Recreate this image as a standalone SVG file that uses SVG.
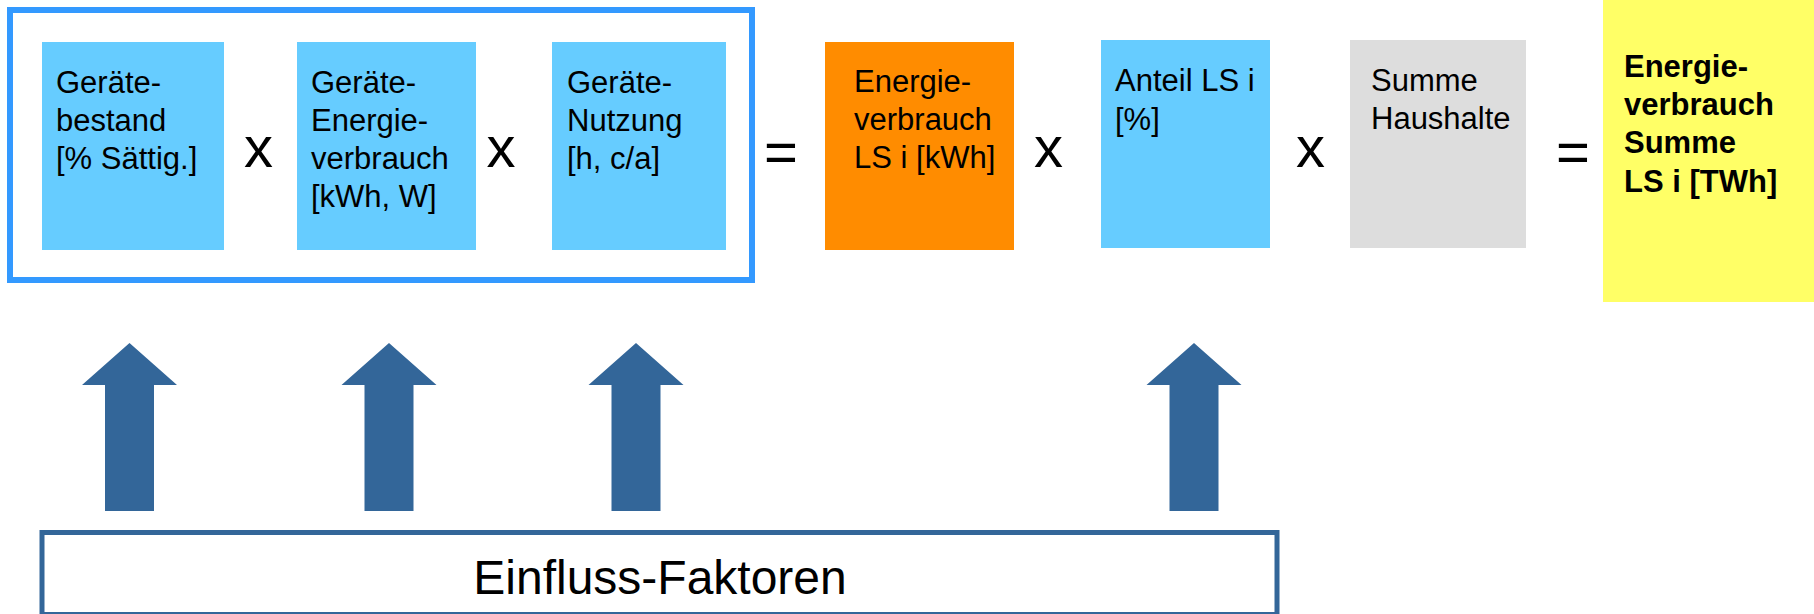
<svg xmlns="http://www.w3.org/2000/svg" width="1814" height="614" viewBox="0 0 1814 614">
<defs>
<style>
.t{font-family:"Liberation Sans",Arial,sans-serif;font-size:31px;fill:#000}
.tb{font-family:"Liberation Sans",Arial,sans-serif;font-size:31px;font-weight:bold;fill:#000}
.op{font-family:"Liberation Sans",Arial,sans-serif;font-size:58px;fill:#000;text-anchor:middle}
.blue{fill:#66CCFF}
.arrow{fill:#336699}
</style>
</defs>
<rect width="1814" height="614" fill="#ffffff"/>
<g id="frame">
<rect x="10" y="10" width="742" height="270" fill="none" stroke="#3399FF" stroke-width="6"/>
</g>
<g id="geraetebestand">
<rect class="blue" x="42" y="42" width="182" height="208"/>
<text class="t" x="56" y="93">Geräte-</text>
<text class="t" x="56" y="131">bestand</text>
<text class="t" x="56" y="169">[% Sättig.]</text>
</g>
<g id="op1"><text class="op" x="258.5" y="167">x</text></g>
<g id="energieverbrauch-geraet">
<rect class="blue" x="297" y="42" width="179" height="208"/>
<text class="t" x="311" y="93">Geräte-</text>
<text class="t" x="311" y="131">Energie-</text>
<text class="t" x="311" y="169">verbrauch</text>
<text class="t" x="311" y="207">[kWh, W]</text>
</g>
<g id="op2"><text class="op" x="501" y="167">x</text></g>
<g id="nutzung">
<rect class="blue" x="552" y="42" width="174" height="208"/>
<text class="t" x="567" y="93">Geräte-</text>
<text class="t" x="567" y="131">Nutzung</text>
<text class="t" x="567" y="169">[h, c/a]</text>
</g>
<g id="eq1"><text class="op" x="781" y="172">=</text></g>
<g id="energieverbrauch-ls">
<rect x="825" y="42" width="189" height="208" fill="#FF8C00"/>
<text class="t" x="854" y="92">Energie-</text>
<text class="t" x="854" y="130">verbrauch</text>
<text class="t" x="854" y="168">LS i [kWh]</text>
</g>
<g id="op3"><text class="op" x="1048.5" y="167">x</text></g>
<g id="anteil">
<rect class="blue" x="1101" y="40" width="169" height="208"/>
<text class="t" x="1115" y="91">Anteil LS i</text>
<text class="t" x="1115" y="130">[%]</text>
</g>
<g id="op4"><text class="op" x="1310.5" y="167">x</text></g>
<g id="haushalte">
<rect x="1350" y="40" width="176" height="208" fill="#DDDDDD"/>
<text class="t" x="1371" y="91">Summe</text>
<text class="t" x="1371" y="129">Haushalte</text>
</g>
<g id="eq2"><text class="op" x="1573" y="172">=</text></g>
<g id="summe">
<rect x="1603" y="0" width="211" height="302" fill="#FFFF66"/>
<text class="tb" x="1624" y="77">Energie-</text>
<text class="tb" x="1624" y="115">verbrauch</text>
<text class="tb" x="1624" y="153">Summe</text>
<text class="tb" x="1624" y="192">LS i [TWh]</text>
</g>
<g id="einfluss">
<rect x="42" y="532.5" width="1235" height="82" fill="#ffffff" stroke="#336699" stroke-width="5"/>
<text x="660" y="594" font-family="'Liberation Sans',Arial,sans-serif" font-size="48" text-anchor="middle" fill="#000">Einfluss-Faktoren</text>
</g>
<g id="connectors">
<polygon class="arrow" points="129.5,343 177,385 154,385 154,511 105,511 105,385 82,385"/>
<polygon class="arrow" points="389,343 436.5,385 413.5,385 413.5,511 364.5,511 364.5,385 341.5,385"/>
<polygon class="arrow" points="636,343 683.5,385 660.5,385 660.5,511 611.5,511 611.5,385 588.5,385"/>
<polygon class="arrow" points="1194,343 1241.5,385 1218.5,385 1218.5,511 1169.5,511 1169.5,385 1146.5,385"/>
</g>
</svg>
